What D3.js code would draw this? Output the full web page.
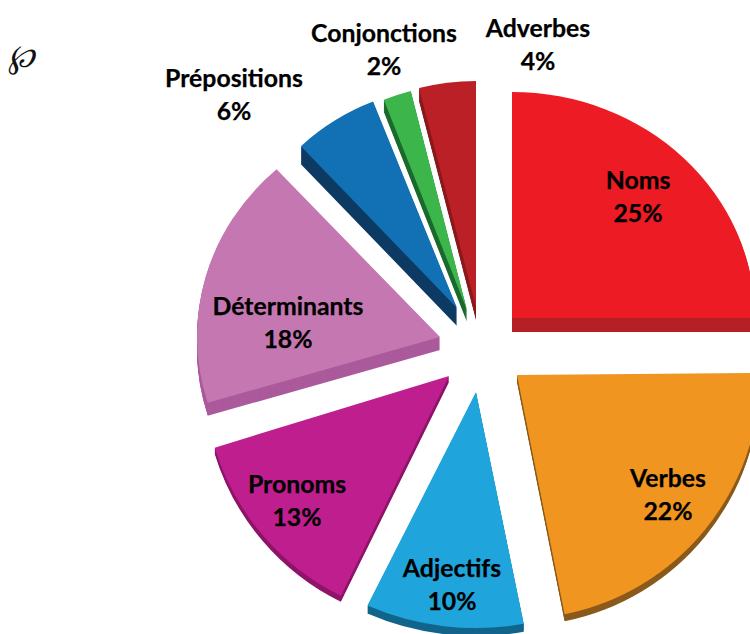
<!DOCTYPE html>
<html lang="fr">
<head>
<meta charset="UTF-8">
<title>Parties du discours</title>
<script src="https://cdn.jsdelivr.net/npm/d3@7"></script>
<style>
  html, body { margin: 0; padding: 0; background: #fff; overflow: hidden; }
  svg { display: block; }
  .lbl { font-family: Lato, "Open Sans", sans-serif; font-weight: 700; font-size: 24.8px; fill: #000; stroke: #000; stroke-width: 0.25px; text-anchor: middle; }
</style>
</head>
<body>
<div id="chart"></div>
<script>
// data
var categories = ["Noms", "Verbes", "Adjectifs", "Pronoms", "Déterminants", "Prépositions", "Conjonctions", "Adverbes"];
var percents = [25, 22, 10, 13, 18, 6, 2, 4];

// styles and layout, one entry per slice
var topColors = ["#ed1c24", "#f0951f", "#1fa5dc", "#bf1e8f", "#c477b0", "#1270b5", "#3cb54a", "#bb2026"];
var sideColors = ["#b51f26", "#8a5a1c", "#12658c", "#8e1569", "#ab5a9c", "#0c3a63", "#1b6a2f", "#8a1a1e"];
var depths = [14, 7, 8, 6, 13, 18, 12, 13];
var explodeX = [30, 35, -6, -33, -42, -25, -15, -6];
var explodeY = [-32, 25, 42, 26, -13, -42, -40, -43];
var radiusX = [243, 243, 255, 245, 243, 228, 226, 229];
var radiusY = [226, 244, 236, 245, 226, 222, 226, 226];
var tilt = [0, -0.5, 0, 1, 1, 0, 0, 0];
var labelX = [638, 668, 452, 297, 288, 234, 384, 538];
var labelY = [180, 478, 568, 484, 306, 78, 33, 28];

var w = 750, h = 634;
var cx = 482, cy = 350;
var lineGap = 33;

var svg = d3.select("#chart").append("svg")
  .attr("width", w)
  .attr("height", h);

var pie = d3.pie().sort(null).value(function(d) { return d; });
var arc = d3.arc().innerRadius(0).outerRadius(100);
var slices = pie(percents);

function place(i, down) {
  return "translate(" + (cx + explodeX[i]) + "," + (cy + explodeY[i] + down) + ")"
    + " rotate(" + tilt[i] + ")"
    + " scale(" + radiusX[i] / 100 + "," + radiusY[i] / 100 + ")";
}

var g = svg.selectAll(".slice")
  .data(slices)
  .enter()
  .append("g")
  .attr("class", "slice");

// side of the slice: the same wedge stacked downwards
g.each(function(d, i) {
  var sel = d3.select(this);
  d3.range(depths[i], 0, -1).forEach(function(k) {
    sel.append("path")
      .attr("d", arc(d))
      .attr("fill", sideColors[i])
      .attr("transform", place(i, k));
  });
  sel.append("path")
    .attr("d", arc(d))
    .attr("fill", topColors[i])
    .attr("transform", place(i, 0));
});

var labels = svg.selectAll(".lbl-g")
  .data(categories)
  .enter()
  .append("g")
  .attr("class", "lbl-g");

labels.append("text")
  .attr("class", "lbl")
  .attr("x", function(d, i) { return labelX[i]; })
  .attr("y", function(d, i) { return labelY[i]; })
  .attr("dy", "0.35em")
  .text(function(d) { return d; });

labels.append("text")
  .attr("class", "lbl")
  .attr("x", function(d, i) { return labelX[i]; })
  .attr("y", function(d, i) { return labelY[i] + lineGap; })
  .attr("dy", "0.35em")
  .text(function(d, i) { return percents[i] + "%"; });

// little ornament in the top left corner
svg.append("text")
  .attr("x", 21)
  .attr("y", 67)
  .attr("text-anchor", "middle")
  .attr("font-family", "DejaVu Serif")
  .attr("font-style", "italic")
  .attr("font-size", 32)
  .attr("fill", "#111")
  .text("\u2118");
</script>
</body>
</html>
